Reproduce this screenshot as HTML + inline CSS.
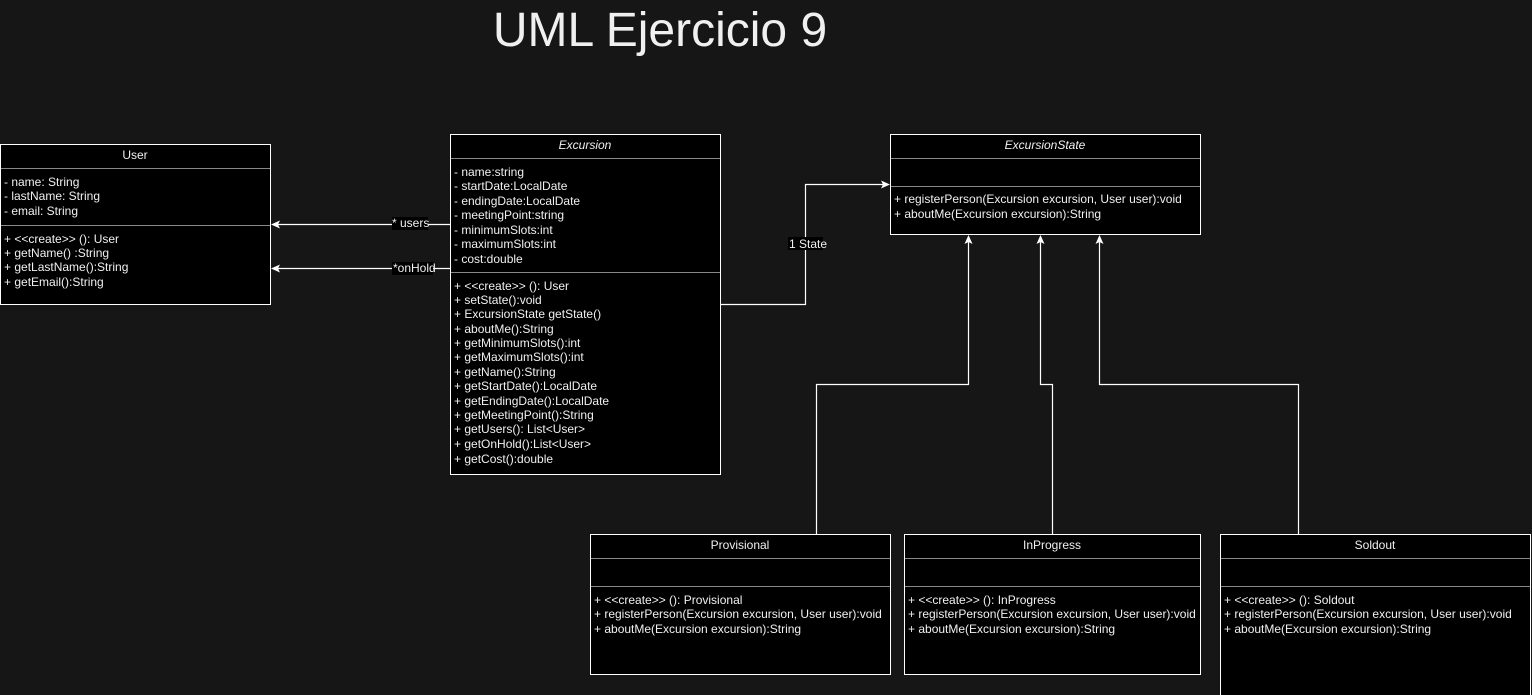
<!DOCTYPE html>
<html><head><meta charset="utf-8"><style>
html,body{margin:0;padding:0;background:#161616;}
svg{display:block;}
text{font-family:"Liberation Sans",Arial,sans-serif;font-size:12px;fill:#f0f0f0;}
.t{text-anchor:middle;}
.i{font-style:italic;}
</style></head><body>
<svg width="1532" height="695" viewBox="0 0 1532 695" xmlns="http://www.w3.org/2000/svg">
<rect width="1532" height="695" fill="#161616"/>
<text x="660" y="46" class="t" style="font-size:48px">UML Ejercicio 9</text>

<g stroke="#fff" fill="#000" stroke-width="1">
<rect x="0.5" y="144.5" width="270" height="160"/>
<rect x="450.5" y="134.5" width="270" height="340"/>
<rect x="890.5" y="134.5" width="310" height="100"/>
<rect x="590.5" y="534.5" width="300" height="140"/>
<rect x="904.5" y="534.5" width="296" height="140"/>
<rect x="1220.5" y="534.5" width="310" height="170"/>
</g>
<g stroke="#888" stroke-width="1">
<line x1="1" y1="168.5" x2="270" y2="168.5"/><line x1="1" y1="225.5" x2="270" y2="225.5"/>
<line x1="451" y1="158.5" x2="720" y2="158.5"/><line x1="451" y1="272.5" x2="720" y2="272.5"/>
<line x1="891" y1="158.5" x2="1200" y2="158.5"/><line x1="891" y1="186.5" x2="1200" y2="186.5"/>
<line x1="591" y1="558.5" x2="890" y2="558.5"/><line x1="591" y1="586.5" x2="890" y2="586.5"/>
<line x1="905" y1="558.5" x2="1200" y2="558.5"/><line x1="905" y1="586.5" x2="1200" y2="586.5"/>
<line x1="1221" y1="558.5" x2="1530" y2="558.5"/><line x1="1221" y1="586.5" x2="1530" y2="586.5"/>
</g>

<text x="135" y="159" class="t">User</text>
<text x="4" y="186">- name: String</text>
<text x="4" y="200">- lastName: String</text>
<text x="4" y="215">- email: String</text>
<text x="4" y="243">+ &lt;&lt;create&gt;&gt; (): User</text>
<text x="4" y="257">+ getName() :String</text>
<text x="4" y="271">+ getLastName():String</text>
<text x="4" y="286">+ getEmail():String</text>

<text x="585" y="149" class="t i">Excursion</text>
<text x="454" y="176">- name:string</text>
<text x="454" y="190">- startDate:LocalDate</text>
<text x="454" y="205">- endingDate:LocalDate</text>
<text x="454" y="219">- meetingPoint:string</text>
<text x="454" y="234">- minimumSlots:int</text>
<text x="454" y="248">- maximumSlots:int</text>
<text x="454" y="263">- cost:double</text>
<text x="454" y="290">+ &lt;&lt;create&gt;&gt; (): User</text>
<text x="454" y="304">+ setState():void</text>
<text x="454" y="318">+ ExcursionState getState()</text>
<text x="454" y="333">+ aboutMe():String</text>
<text x="454" y="347">+ getMinimumSlots():int</text>
<text x="454" y="361">+ getMaximumSlots():int</text>
<text x="454" y="376">+ getName():String</text>
<text x="454" y="390">+ getStartDate():LocalDate</text>
<text x="454" y="405">+ getEndingDate():LocalDate</text>
<text x="454" y="419">+ getMeetingPoint():String</text>
<text x="454" y="433">+ getUsers(): List&lt;User&gt;</text>
<text x="454" y="448">+ getOnHold():List&lt;User&gt;</text>
<text x="454" y="463">+ getCost():double</text>

<text x="1045" y="149" class="t i">ExcursionState</text>
<text x="894" y="203">+ registerPerson(Excursion excursion, User user):void</text>
<text x="894" y="218">+ aboutMe(Excursion excursion):String</text>

<text x="740" y="549" class="t">Provisional</text>
<text x="594" y="604">+ &lt;&lt;create&gt;&gt; (): Provisional</text>
<text x="594" y="618">+ registerPerson(Excursion excursion, User user):void</text>
<text x="594" y="633">+ aboutMe(Excursion excursion):String</text>

<text x="1052" y="549" class="t">InProgress</text>
<text x="908" y="604">+ &lt;&lt;create&gt;&gt; (): InProgress</text>
<text x="908" y="618">+ registerPerson(Excursion excursion, User user):void</text>
<text x="908" y="633">+ aboutMe(Excursion excursion):String</text>

<text x="1375" y="549" class="t">Soldout</text>
<text x="1224" y="604">+ &lt;&lt;create&gt;&gt; (): Soldout</text>
<text x="1224" y="618">+ registerPerson(Excursion excursion, User user):void</text>
<text x="1224" y="633">+ aboutMe(Excursion excursion):String</text>

<g stroke="#fff" fill="none" stroke-width="1.2">
<line x1="450" y1="224.5" x2="276" y2="224.5"/>
<line x1="450" y1="268.5" x2="276" y2="268.5"/>
<polyline points="720,304.5 805.5,304.5 805.5,184.5 884,184.5"/>
<polyline points="816.5,534 816.5,384.5 968.5,384.5 968.5,240"/>
<polyline points="1052.5,534 1052.5,384.5 1040.5,384.5 1040.5,240"/>
<polyline points="1298.5,534 1298.5,384.5 1099.5,384.5 1099.5,240"/>
</g>
<g fill="#fff">
<polygon points="271,224.5 280,220.5 278,224.5 280,228.5"/>
<polygon points="271,268.5 280,264.5 278,268.5 280,272.5"/>
<polygon points="890,184.5 881,180.5 883,184.5 881,188.5"/>
<polygon points="968.5,235 964.5,244 968.5,242 972.5,244"/>
<polygon points="1040.5,235 1036.5,244 1040.5,242 1044.5,244"/>
<polygon points="1099.5,235 1095.5,244 1099.5,242 1103.5,244"/>
</g>
<rect x="392" y="217" width="36" height="13" fill="#000"/>
<text x="392" y="227">* users</text>
<rect x="392" y="262" width="41" height="13" fill="#000"/>
<text x="393" y="272">*onHold</text>
<rect x="788" y="237" width="35" height="13" fill="#000"/>
<text x="789" y="248">1 State</text>
</svg>
</body></html>
